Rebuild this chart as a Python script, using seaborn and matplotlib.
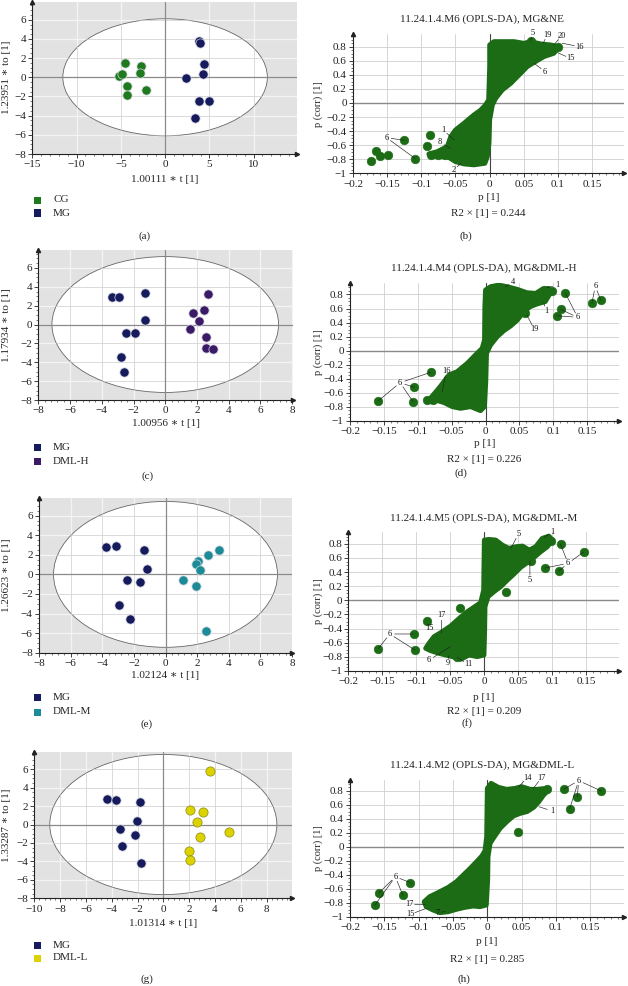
import matplotlib
matplotlib.use("Agg")
import pandas as pd
import matplotlib.pyplot as plt
import seaborn as sns
from matplotlib.patches import Ellipse, Rectangle
from matplotlib.ticker import MultipleLocator, AutoMinorLocator, FuncFormatter

sns.set_style("ticks")
plt.rcParams['font.family'] = ['Liberation Serif', 'DejaVu Serif']
plt.rcParams['axes.unicode_minus'] = True

W, H = 628, 986

# ---- score plots (OPLS-DA t / to) ----
a_groups = ['CG', 'MG']
a_t = {'CG': [-4.52, -2.75, -5.2, -4.9, -2.82, -4.33, -2.18, -4.25],
       'MG': [3.85, 3.95, 4.34, 4.23, 2.35, 3.82, 4.91, 3.36]}
a_to = {'CG': [1.52, 1.14, 0.1, 0.3, 0.41, -0.86, -1.31, -1.83],
        'MG': [3.75, 3.62, 1.34, 0.31, -0.1, -2.45, -2.52, -4.24]}

c_groups = ['MG', 'DML-H']
c_t = {'MG': [-3.35, -2.91, -1.29, -1.25, -2.5, -1.88, -2.82, -2.63],
       'DML-H': [2.67, 2.42, 1.77, 2.12, 1.57, 2.55, 2.55, 3.04]}
c_to = {'MG': [2.94, 2.94, 3.3, 0.46, -0.89, -0.89, -3.44, -5.04],
        'DML-H': [3.23, 1.52, 1.17, 0.39, -0.43, -1.31, -2.48, -2.62]}

e_groups = ['MG', 'DML-M']
e_t = {'MG': [-3.79, -3.12, -1.33, -1.18, -2.46, -1.62, -2.97, -2.25],
       'DML-M': [3.41, 2.69, 2.08, 1.96, 2.21, 1.12, 1.92, 2.57]}
e_to = {'MG': [2.8, 2.94, 2.46, 0.58, -0.55, -0.82, -3.14, -4.57],
        'DML-M': [2.49, 1.95, 1.33, 1.09, 0.48, -0.55, -1.23, -5.77]}

g_groups = ['MG', 'DML-L']
g_t = {'MG': [-4.34, -3.64, -1.83, -2.02, -3.36, -2.22, -3.2, -1.76],
       'DML-L': [3.64, 2.07, 3.07, 2.61, 5.06, 2.82, 1.97, 2.07]}
g_to = {'MG': [2.82, 2.64, 2.45, 0.36, -0.47, -1.12, -2.38, -4.12],
        'DML-L': [5.78, 1.59, 1.37, 0.29, -0.76, -1.3, -2.85, -3.83]}

x_labels = ['1.00111 ∗ t [1]', '1.00956 ∗ t [1]', '1.02124 ∗ t [1]', '1.01314 ∗ t [1]']
y_labels = ['1.23951 ∗ to [1]', '1.17934 ∗ to [1]', '1.26623 ∗ to [1]', '1.33287 ∗ to [1]']

colors = {'CG': '#1f7a1f', 'MG': '#151b5c', 'DML-H': '#3b1a67',
          'DML-M': '#1b8b98', 'DML-L': '#dcd200'}

# ---- S-plots: cloud outline, outlying points, labels ----
b_cloud_p = [-0.0015, 0, 0, 0.0063, 0.021, 0.0356, 0.05, 0.06, 0.075, 0.089, 0.101, 0.094, 0.0795,
             0.067, 0.055, 0.043, 0.031, 0.0185, 0.0088, 0.004, 0, -0.001, -0.0034, -0.007, -0.023,
             -0.0376, -0.05, -0.06, -0.072, -0.084, -0.089, -0.0766, -0.062, -0.057, -0.05, -0.0376,
             -0.023, -0.013, -0.006]
b_cloud_r = [0.043, 0.52, 0.825, 0.872, 0.872, 0.872, 0.848, 0.872, 0.839, 0.825, 0.80, 0.706, 0.659,
             0.588, 0.517, 0.398, 0.28, 0.185, 0.066, -0.028, -0.24, -0.573, -0.763, -0.858, -0.88,
             -0.867, -0.834, -0.773, -0.763, -0.754, -0.725, -0.692, -0.62, -0.479, -0.384, -0.289,
             -0.17, -0.1, -0.028]
b_out_p = [-0.173, -0.166, -0.16, -0.149, -0.125, -0.109, -0.092, -0.087, -0.086, -0.075, -0.066, 0.06, 0.1]
b_out_r = [-0.82, -0.68, -0.76, -0.74, -0.53, -0.79, -0.61, -0.46, -0.74, -0.745, -0.745, 0.886, 0.80]
b_notes = [('5', 0.063, 1.0, [(0.06, 0.886)]), ('19', 0.084, 0.967, [(0.0785, 0.85)]),
           ('20', 0.105, 0.953, [(0.094, 0.825)]), ('16', 0.131, 0.80, [(0.106, 0.85)]),
           ('15', 0.118, 0.635, [(0.099, 0.716)]), ('6', 0.081, 0.445, [(0.065, 0.564)]),
           ('1', -0.068, -0.384, [(-0.052, -0.526)]), ('8', -0.073, -0.56, [(-0.057, -0.645)]),
           ('6', -0.151, -0.493, [(-0.125, -0.531), (-0.109, -0.79)]),
           ('2', -0.053, -0.953, [(-0.042, -0.858)])]

d_cloud_p = [-0.0015, -0.001, 0, 0.0074, 0.0197, 0.032, 0.047, 0.061, 0.074, 0.0835, 0.093, 0.097,
             0.088, 0.076, 0.066, 0.0565, 0.047, 0.037, 0.027, 0.0172, 0.0074, 0.0015, 0.0005, -0.0015,
             -0.0074, -0.022, -0.037, -0.049, -0.061, -0.074, -0.0835, -0.076, -0.067, -0.054, -0.042,
             -0.027, -0.015, -0.005]
d_cloud_r = [0.152, 0.626, 0.863, 0.91, 0.934, 0.91, 0.872, 0.825, 0.815, 0.872, 0.886, 0.839,
             0.697, 0.664, 0.626, 0.555, 0.436, 0.351, 0.284, 0.199, 0.08, -0.038, -0.417, -0.796,
             -0.853, -0.796, -0.82, -0.796, -0.739, -0.701, -0.701, -0.616, -0.512, -0.346, -0.299,
             -0.18, -0.062, 0.033]
d_out_p = [0.086, 0.098, 0.118, 0.111, 0.105, 0.157, 0.17, 0.059, 0.085,
           -0.158, -0.081, -0.105, -0.107, -0.086, -0.078]
d_out_r = [0.862, 0.853, 0.815, 0.588, 0.498, 0.673, 0.72, 0.53, 0.73,
           -0.711, -0.308, -0.521, -0.725, -0.70, -0.70]
d_notes = [('4', 0.041, 0.972, [(0.029, 0.91)]), ('1', 0.106, 0.934, [(0.091, 0.896)]),
           ('6', 0.162, 0.919, [(0.157, 0.673), (0.17, 0.72)]), ('1', 0.09, 0.569, [(0.086, 0.673)]),
           ('6', 0.136, 0.474, [(0.118, 0.815), (0.111, 0.588), (0.105, 0.498)]),
           ('19', 0.072, 0.303, [(0.061, 0.507)]), ('16', -0.058, -0.289, [(-0.064, -0.583)]),
           ('6', -0.126, -0.455, [(-0.081, -0.308), (-0.105, -0.521), (-0.107, -0.725), (-0.158, -0.711)])]

f_cloud_p = [-0.001, -0.0005, 0, 0.007, 0.0167, 0.0265, 0.036, 0.046, 0.056, 0.066, 0.0755, 0.085,
             0.095, 0.1, 0.0926, 0.083, 0.073, 0.063, 0.0534, 0.0436, 0.034, 0.024, 0.0142, 0.0054,
             0.001, 0.0005, -0.0005, -0.0103, -0.0225, -0.0348, -0.047, -0.0569, -0.0667, -0.079,
             -0.0863, -0.0814, -0.074, -0.0618, -0.0495, -0.037, -0.025, -0.0127, -0.0054]
f_cloud_r = [0.146, 0.524, 0.854, 0.863, 0.854, 0.783, 0.736, 0.759, 0.769, 0.712, 0.759, 0.877,
             0.91, 0.854, 0.759, 0.689, 0.608, 0.533, 0.467, 0.373, 0.288, 0.193, 0.123, 0.052,
             -0.09, -0.42, -0.774, -0.797, -0.774, -0.835, -0.797, -0.774, -0.75, -0.712,
             -0.679, -0.608, -0.514, -0.443, -0.363, -0.255, -0.16, -0.08, -0.033]
f_out_p = [0.112, 0.146, 0.089, 0.11, 0.069, 0.032, 0.098, -0.036, -0.085, -0.104, -0.102, -0.156, -0.04]
f_out_r = [0.797, 0.684, 0.458, 0.42, 0.561, 0.123, 0.845, -0.113, -0.288, -0.476, -0.703, -0.684, -0.807]
f_notes = [('5', 0.05, 0.939, [(0.039, 0.736)]), ('1', 0.1, 0.972, [(0.088, 0.89)]),
           ('6', 0.123, 0.524, [(0.112, 0.797), (0.146, 0.684), (0.089, 0.458), (0.11, 0.42)]),
           ('5', 0.067, 0.288, [(0.067, 0.561)]), ('17', -0.063, -0.212, [(-0.063, -0.467)]),
           ('15', -0.081, -0.387, []),
           ('6', -0.139, -0.476, [(-0.156, -0.684), (-0.104, -0.476), (-0.102, -0.703)]),
           ('6', -0.081, -0.844, [(-0.05, -0.656)]), ('9', -0.054, -0.892, [(-0.052, -0.78)]),
           ('11', -0.024, -0.903, [(-0.04, -0.807)])]

h_cloud_p = [-0.001, -0.0005, 0, 0.0054, 0.016, 0.028, 0.0406, 0.05, 0.0626, 0.072, 0.082, 0.0895,
             0.082, 0.075, 0.0675, 0.0577, 0.048, 0.038, 0.0284, 0.0186, 0.0103, 0.004, 0.001, 0.0005,
             -0.0015, -0.0108, -0.0205, -0.0328, -0.045, -0.057, -0.069, -0.079, -0.089, -0.092,
             -0.084, -0.072, -0.057, -0.045, -0.035, -0.025, -0.0156, -0.008, -0.0034]
h_cloud_r = [0.143, 0.524, 0.833, 0.905, 0.848, 0.819, 0.833, 0.857, 0.819, 0.819, 0.829, 0.81,
             0.738, 0.643, 0.562, 0.5, 0.476, 0.438, 0.357, 0.262, 0.143, 0.048, -0.143, -0.476,
             -0.833, -0.857, -0.848, -0.867, -0.895, -0.929, -0.943, -0.905, -0.857, -0.786,
             -0.714, -0.657, -0.581, -0.5, -0.405, -0.31, -0.214, -0.133, -0.057]
h_out_p = [0.111, 0.166, 0.131, 0.12, 0.044, 0.087, -0.164, -0.158, -0.112, -0.123]
h_out_r = [0.819, 0.795, 0.71, 0.543, 0.214, 0.819, -0.838, -0.662, -0.514, -0.695]
h_notes = [('14', 0.058, 0.986, [(0.046, 0.857)]), ('17', 0.079, 0.986, [(0.067, 0.833)]),
           ('6', 0.133, 0.943, [(0.111, 0.819), (0.166, 0.795), (0.131, 0.71), (0.12, 0.543)]),
           ('1', 0.094, 0.51, [(0.075, 0.571)]),
           ('6', -0.134, -0.429, [(-0.164, -0.838), (-0.158, -0.662), (-0.112, -0.514), (-0.123, -0.695)]),
           ('17', -0.113, -0.824, [(-0.091, -0.824)]), ('15', -0.112, -0.967, [(-0.089, -0.881)]),
           ('7', -0.073, -0.952, [(-0.062, -0.924)])]

s_titles = ['11.24.1.4.M6 (OPLS-DA), MG&NE', '11.24.1.4.M4 (OPLS-DA), MG&DML-H',
            '11.24.1.4.M5 (OPLS-DA), MG&DML-M', '11.24.1.4.M2 (OPLS-DA), MG&DML-L']
s_r2 = ['0.244', '0.226', '0.209', '0.285']
s_green = '#1b6c15'

fig = plt.figure(figsize=(W / 100, H / 100), dpi=100)
fig.patch.set_facecolor('white')


def frect(l, t, r, b):
    return [l / W, 1 - b / H, (r - l) / W, (b - t) / H]


def ftext(x, y, s, **kw):
    kw.setdefault('fontsize', 8)
    kw.setdefault('ha', 'center')
    kw.setdefault('va', 'center')
    fig.text(x / W, 1 - y / H, s, **kw)


def fmt(v, pos):
    s = '%g' % round(v, 3)
    return s.replace('-', '\u2212')


def axis_style(ax):
    for side in ['top', 'right']:
        ax.spines[side].set_visible(False)
    for side in ['left', 'bottom']:
        ax.spines[side].set_color('#222222')
        ax.spines[side].set_linewidth(0.8)
    ax.plot(1, 0, '>', color='#222222', ms=3, transform=ax.transAxes, clip_on=False)
    ax.plot(0, 1, '^', color='#222222', ms=3, transform=ax.transAxes, clip_on=False)
    ax.yaxis.set_minor_locator(AutoMinorLocator(4))
    ax.xaxis.set_minor_locator(AutoMinorLocator(5))
    ax.tick_params(which='major', length=3, width=0.6, labelsize=8, pad=1.5, colors='#222222')
    ax.tick_params(which='minor', length=1.5, width=0.5, colors='#444444')
    ax.xaxis.set_major_formatter(FuncFormatter(fmt))
    ax.yaxis.set_major_formatter(FuncFormatter(fmt))


def score_panel(rect, xlim, ylim, xstep, ell, groups, t, to, xlab, ylab, xlab_y, leg_y, tag):
    ax = fig.add_axes(frect(*rect))
    ax.set_facecolor('#e2e2e2')
    ax.set_xlim(*xlim)
    ax.set_ylim(*ylim)
    ax.xaxis.set_major_locator(MultipleLocator(xstep))
    ax.yaxis.set_major_locator(MultipleLocator(2))
    e = Ellipse((0, 0), 2 * ell[0], 2 * ell[1], facecolor='white', edgecolor='#666666', lw=0.6, zorder=1)
    ax.add_patch(e)
    xs = [v for v in ax.get_xticks() if xlim[0] < v < xlim[1]]
    ys = [v for v in ax.get_yticks() if ylim[0] < v < ylim[1]]
    for v in xs:
        ax.axvline(v, color='#f4f4f4', lw=0.9, zorder=0.5)
        ax.axvline(v, color='#d4d4d4', lw=0.6, zorder=1.5).set_clip_path(e)
    for v in ys:
        ax.axhline(v, color='#f4f4f4', lw=0.9, zorder=0.5)
        ax.axhline(v, color='#d4d4d4', lw=0.6, zorder=1.5).set_clip_path(e)
    ax.axhline(0, color='#8a8a8a', lw=0.9, zorder=1.6)
    ax.axvline(0, color='#8a8a8a', lw=0.9, zorder=1.6)
    rows = []
    for gname in groups:
        for a, b in zip(t[gname], to[gname]):
            rows.append({'group': gname, 't': a, 'to': b})
    df = pd.DataFrame(rows)
    for gname in groups:
        edge = '#8c8a10' if gname == 'DML-L' else '#d8d8e0'
        sns.scatterplot(data=df[df['group'] == gname], x='t', y='to', color=colors[gname], s=44,
                        edgecolor=edge, linewidth=0.5, legend=False, ax=ax, zorder=3)
    ax.set_xlabel('')
    ax.set_ylabel('')
    axis_style(ax)
    cx = (rect[0] + rect[2]) / 2
    ftext(cx, xlab_y, xlab)
    ftext(7, (rect[1] + rect[3]) / 2, ylab, rotation=90)
    for k, gname in enumerate(groups):
        y = leg_y[k]
        fig.patches.append(Rectangle((34 / W, 1 - (y + 3.5) / H), 7 / W, 7 / H,
                                     transform=fig.transFigure, facecolor=colors[gname],
                                     edgecolor='none', figure=fig))
        ftext(53, y, gname, ha='left')
    ftext(tag[1], tag[2], tag[0])


def s_panel(rect, xmax, ymax, cp, cr, op, orr, notes, title, title_xy, xlab_y, r2, r2_y, tag):
    ax = fig.add_axes(frect(*rect))
    ax.set_facecolor('white')
    ax.set_xlim(-0.2, xmax)
    ax.set_ylim(-1, ymax)
    ax.xaxis.set_major_locator(MultipleLocator(0.05))
    ax.yaxis.set_major_locator(MultipleLocator(0.2))
    ax.grid(True, which='major', color='#cfcfcf', lw=0.6, zorder=0)
    ax.set_axisbelow(True)
    ax.axhline(0, color='#8a8a8a', lw=1.0, zorder=1)
    ax.axvline(0, color='#444444', lw=0.8, zorder=1)
    ax.fill(cp, cr, color=s_green, lw=3.5, ec=s_green, joinstyle='round', zorder=2)
    sns.scatterplot(x=op, y=orr, color=s_green, s=40, edgecolor=s_green, linewidth=0.3,
                    legend=False, ax=ax, zorder=3)
    for lab, tx, ty, targets in notes:
        ax.text(tx, ty, lab, fontsize=6, ha='center', va='center', color='#111111', zorder=5, clip_on=False)
        for px, py in targets:
            ax.annotate('', xy=(px, py), xytext=(tx, ty), annotation_clip=False, zorder=4,
                        arrowprops=dict(arrowstyle='-', lw=0.45, color='#222222', shrinkA=3.5, shrinkB=0))
    ax.set_xlabel('')
    ax.set_ylabel('')
    axis_style(ax)
    cx = (rect[0] + rect[2]) / 2
    ftext(title_xy[0], title_xy[1], title)
    ftext(cx, xlab_y, 'p [1]')
    ftext(cx, r2_y, 'R2 × [1] = ' + r2)
    ftext(318, (rect[1] + rect[3]) / 2, 'p (corr) [1]', rotation=90, fontsize=7.5)
    ftext(tag[1], tag[2], tag[0])


score_panel((32.3, 1.5, 297, 154), (-15, 14.9), (-8, 7.9), 5, (11.55, 6.1), a_groups, a_t, a_to,
            x_labels[0], y_labels[0], 179, (200, 213), ('(a)', 145, 236))
score_panel((38.3, 250, 293, 400), (-8, 8.05), (-8, 7.9), 2, (7.14, 7.2), c_groups, c_t, c_to,
            x_labels[1], y_labels[1], 424, (447, 461), ('(c)', 148, 476))
score_panel((39, 498, 292, 652.7), (-8, 8.0), (-8, 7.8), 2, (7.08, 7.45), e_groups, e_t, e_to,
            x_labels[2], y_labels[2], 676, (697, 712), ('(e)', 147, 724))
score_panel((34.3, 751.7, 291.7, 898.3), (-10, 9.95), (-8, 7.9), 2, (8.8, 7.6), g_groups, g_t, g_to,
            x_labels[3], y_labels[3], 923, (945, 958), ('(g)', 147, 979))

s_panel((353, 34.3, 624, 173.3), 0.1966, 0.976, b_cloud_p, b_cloud_r, b_out_p, b_out_r, b_notes,
        s_titles[0], (482, 19.3), 198, s_r2[0], 213, ('(b)', 466, 236))
s_panel((350, 282.7, 619, 421), 0.197, 0.967, d_cloud_p, d_cloud_r, d_out_p, d_out_r, d_notes,
        s_titles[1], (484, 268), 443, s_r2[1], 460, ('(d)', 461, 473))
s_panel((348.3, 531.7, 619, 671), 0.198, 0.972, f_cloud_p, f_cloud_r, f_out_p, f_out_r, f_notes,
        s_titles[2], (484, 518), 697, s_r2[2], 712, ('(f)', 467, 723))
s_panel((350, 780, 624, 916.7), 0.199, 0.952, h_cloud_p, h_cloud_r, h_out_p, h_out_r, h_notes,
        s_titles[3], (482, 765), 942, s_r2[3], 959, ('(h)', 464, 979))

fig.savefig('out.png', dpi=100)
